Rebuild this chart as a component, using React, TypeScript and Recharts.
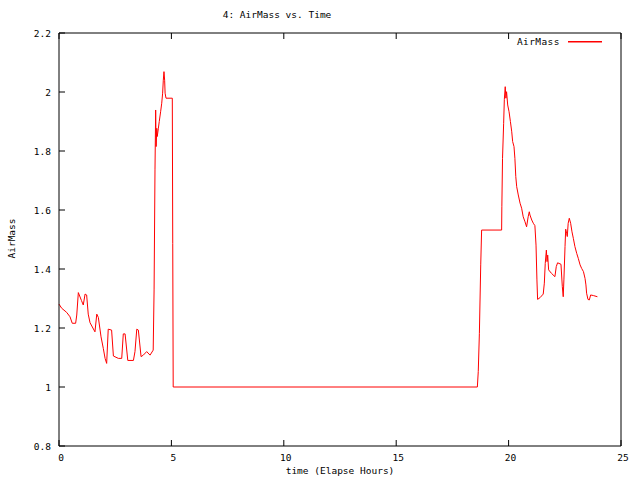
import { JSX } from 'react'
import { LineChart, Line, XAxis, YAxis, Legend } from 'recharts'

// elapsed hours and air mass
const hours = [
  0, 0.12, 0.34, 0.49, 0.59, 0.74, 0.79, 0.86, 1.0, 1.08,
  1.16, 1.23, 1.3, 1.38, 1.6, 1.68, 1.75, 1.87, 1.97, 2.05,
  2.12, 2.19, 2.34, 2.42, 2.64, 2.79, 2.86, 2.94, 3.06, 3.31,
  3.38, 3.46, 3.53, 3.65, 3.75, 3.9, 4.05, 4.19,
  4.23, 4.27, 4.3, 4.32, 4.35, 4.37, 4.42, 4.46, 4.52, 4.57,
  4.61, 4.64, 4.67, 4.7, 4.72, 4.76, 5.04, 5.06, 5.08,
  18.61, 18.65, 18.7, 18.76, 18.8, 19.69, 19.7, 19.73, 19.78, 19.81,
  19.85, 19.88, 19.91, 19.96, 20.02, 20.08, 20.14, 20.18, 20.24, 20.28,
  20.32, 20.36, 20.43, 20.51, 20.58, 20.65, 20.73, 20.8, 20.87, 20.92,
  20.95, 21.03, 21.1, 21.17, 21.22, 21.26, 21.29, 21.4, 21.54, 21.59,
  21.63, 21.68, 21.71, 21.74, 21.78, 21.91, 22.06, 22.12, 22.18, 22.33,
  22.39, 22.43, 22.46, 22.51, 22.54, 22.58, 22.61, 22.65, 22.7, 22.76,
  22.82, 22.88, 22.95, 23.03, 23.1, 23.18, 23.25, 23.33, 23.4, 23.44,
  23.47, 23.53, 23.59, 23.65, 23.77, 23.95
]

const airMass = [
  1.281, 1.267, 1.253, 1.238, 1.216, 1.216, 1.244, 1.32, 1.293, 1.278,
  1.315, 1.312, 1.247, 1.218, 1.187, 1.247, 1.236, 1.17, 1.131, 1.097,
  1.08, 1.196, 1.193, 1.105, 1.097, 1.097, 1.18, 1.18, 1.09, 1.09,
  1.12, 1.196, 1.193, 1.103, 1.108, 1.12, 1.108, 1.125,
  1.329, 1.736, 1.939, 1.815, 1.877, 1.849, 1.877, 1.9, 1.933, 1.962,
  1.996, 2.04, 2.069, 2.04, 1.996, 1.979, 1.979, 1.487, 1.0,
  1.0, 1.052, 1.182, 1.414, 1.532, 1.532, 1.611, 1.775, 1.894, 1.975,
  2.018, 1.979, 2.001, 1.956, 1.933, 1.9, 1.865, 1.832, 1.815, 1.775,
  1.713, 1.679, 1.651, 1.623, 1.606, 1.577, 1.56, 1.543, 1.577, 1.594,
  1.583, 1.566, 1.555, 1.547, 1.481, 1.363, 1.297, 1.303, 1.315, 1.352,
  1.419, 1.464, 1.425, 1.447, 1.397, 1.385, 1.374, 1.408, 1.421, 1.416,
  1.34, 1.306, 1.363, 1.476, 1.535, 1.521, 1.51, 1.555, 1.572, 1.555,
  1.526, 1.504, 1.476, 1.453, 1.436, 1.414, 1.402, 1.391, 1.368, 1.346,
  1.318, 1.297, 1.295, 1.312, 1.31, 1.306
]

const xTicks = [0, 5, 10, 15, 20, 25]
const yTicks = [0.8, 1, 1.2, 1.4, 1.6, 1.8, 2, 2.2]

const data = hours.map((t, i) => ({ t, airMass: airMass[i] }))

const FONT = '"DejaVu Sans Mono", monospace'
const TICK = 6

// gnuplot style: ticks point inward, labels only on left/bottom
function LeftTick(p: any): JSX.Element {
  return (
    <g>
      <line x1={p.x} y1={p.y} x2={p.x + TICK} y2={p.y} stroke="#000" />
      <text x={p.x - 8} y={p.y + 4} textAnchor="end" fontSize={9.5} fontFamily={FONT} fill="#000">
        {p.payload.value}
      </text>
    </g>
  )
}

function RightTick(p: any): JSX.Element {
  return <line x1={p.x} y1={p.y} x2={p.x - TICK} y2={p.y} stroke="#000" />
}

function BottomTick(p: any): JSX.Element {
  return (
    <g>
      <line x1={p.x} y1={p.y} x2={p.x} y2={p.y - TICK} stroke="#000" />
      <text x={p.x + 2} y={p.y + 15} textAnchor="middle" fontSize={9.5} fontFamily={FONT} fill="#000">
        {p.payload.value}
      </text>
    </g>
  )
}

function TopTick(p: any): JSX.Element {
  return <line x1={p.x} y1={p.y} x2={p.x} y2={p.y + TICK} stroke="#000" />
}

function KeyBox(): JSX.Element {
  return (
    <div style={{ display: 'flex', alignItems: 'center', fontFamily: FONT, fontSize: 9.5, color: '#000' }}>
      <span style={{ letterSpacing: 0.4 }}>AirMass</span>
      <svg width={42} height={6} style={{ display: 'block' }}>
        <rect x={8} y={2} width={34} height={1.5} fill="#ff0000" />
      </svg>
    </div>
  )
}

export default function App(): JSX.Element {
  return (
    <div style={{ position: 'absolute', left: 0, top: 0, width: 640, height: 480, background: '#fff' }}>
      <div
        style={{
          position: 'absolute', left: 0, top: 9, width: 554, textAlign: 'center',
          fontFamily: FONT, fontSize: 9.5, color: '#000'
        }}
      >
        4: AirMass vs. Time
      </div>
      <div
        style={{
          position: 'absolute', left: 59, top: 465, width: 562, textAlign: 'center',
          fontFamily: FONT, fontSize: 9.5, color: '#000'
        }}
      >
        time (Elapse Hours)
      </div>
      <div
        style={{
          position: 'absolute', left: -29, top: 233, width: 80, textAlign: 'center',
          fontFamily: FONT, fontSize: 9.5, color: '#000', transform: 'rotate(-90deg)'
        }}
      >
        AirMass
      </div>
      <LineChart width={640} height={480} data={data} margin={{ top: 0, right: 0, bottom: 0, left: 0 }}>
        <XAxis
          xAxisId="bottom"
          dataKey="t"
          type="number"
          domain={[0, 25]}
          ticks={xTicks}
          height={34}
          tickSize={0}
          tickMargin={0}
          stroke="#000"
          tick={(p: any) => <BottomTick {...p} />}
        />
        <XAxis
          xAxisId="top"
          orientation="top"
          dataKey="t"
          type="number"
          domain={[0, 25]}
          ticks={xTicks}
          height={33}
          tickSize={0}
          tickMargin={0}
          stroke="#000"
          tick={(p: any) => <TopTick {...p} />}
        />
        <YAxis
          yAxisId="left"
          type="number"
          domain={[0.8, 2.2]}
          ticks={yTicks}
          width={59}
          tickSize={0}
          tickMargin={0}
          stroke="#000"
          tick={(p: any) => <LeftTick {...p} />}
        />
        <YAxis
          yAxisId="right"
          orientation="right"
          type="number"
          domain={[0.8, 2.2]}
          ticks={yTicks}
          width={19}
          tickSize={0}
          tickMargin={0}
          stroke="#000"
          tick={(p: any) => <RightTick {...p} />}
        />
        <Legend
          layout="vertical"
          align="center"
          verticalAlign="middle"
          content={() => <KeyBox />}
          wrapperStyle={{ position: 'absolute', left: 517, top: 36, width: 100 }}
        />
        <Line
          xAxisId="bottom"
          yAxisId="left"
          type="linear"
          dataKey="airMass"
          name="AirMass"
          stroke="#ff0000"
          strokeWidth={1}
          dot={false}
          isAnimationActive={false}
        />
      </LineChart>
    </div>
  )
}
